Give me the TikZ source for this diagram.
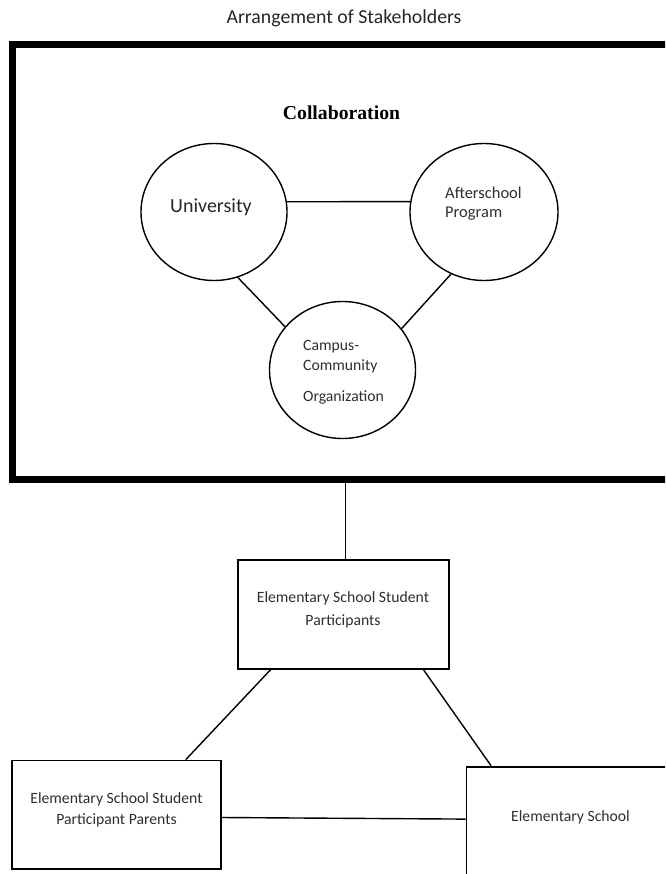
\documentclass[tikz,border=0pt]{standalone}
\usepackage{fontspec}
\setmainfont{Carlito}
\newfontfamily\serifbf{Liberation Serif}
\usetikzlibrary{shapes.geometric}
\begin{document}
\begin{tikzpicture}[x=1pt,y=-1pt,
  txt/.style={text=black!82, inner sep=0, font=\fontsize{15.7}{19}\selectfont},
  bigtxt/.style={text=black!85, inner sep=0, font=\fontsize{20}{24}\selectfont},
  stake/.style={draw, ellipse, line width=1.4pt, minimum width=146pt, minimum height=137pt, inner sep=0},
  stakebox/.style={draw, rectangle, line width=1.8pt, inner sep=0},
  frame/.style={draw, rectangle, line width=7pt, inner sep=0},
  link/.style={line width=1.4pt}]
\useasboundingbox (0,0) rectangle (665,874);
\clip (0,0) rectangle (665,874);

% title and frame
\node[bigtxt, font=\fontsize{19.8}{24}\selectfont] (title) at (344,18.5) {Arrangement of Stakeholders};
\node[frame, minimum width=667.3pt, minimum height=435pt] (fr) at (346.35,262) {};
\node[inner sep=0, font=\serifbf\bfseries\fontsize{19.7}{24}\selectfont] (collab) at (341.5,113) {Collaboration};

% circles
\node[stake] (U) at (214,212) {};
\node[stake, minimum width=148pt] (A) at (484,212) {};
\node[stake] (C) at (342.5,370) {};

\node[bigtxt] (ulbl) at (211,207) {University};
\node[txt, anchor=west, font=\fontsize{16.5}{20}\selectfont] (alblA) at (445,193.3) {Afterschool};
\node[txt, anchor=west, font=\fontsize{16.5}{20}\selectfont] (alblB) at (445,214) {Program};
\node[txt, anchor=west] (clblA) at (303,346.7) {Campus-};
\node[txt, anchor=west] (clblB) at (303,366) {Community};
\node[txt, anchor=west] (clblC) at (303,397.3) {Organization};

\draw[link] (U.8) -- (A.172);
\draw[link] (U.-70) -- (C.143);
\draw[link] (A.242) -- (C.35);

% boxes
\node[stakebox, minimum width=210.4pt, minimum height=109pt] (S) at (343.5,614.5) {};
\node[txt] (slblA) at (343,598) {Elementary School Student};
\node[txt] (slblB) at (343,621) {Participants};

\node[stakebox, minimum width=209.6pt, minimum height=108.8pt] (P) at (116.5,814.9) {};
\node[txt] (plblA) at (116.5,799.3) {Elementary School Student};
\node[txt] (plblB) at (116.5,820) {Participant Parents};

\node[stakebox, minimum width=253.5pt, minimum height=153.3pt] (E) at (593.25,843.35) {};
\node[txt] (elbl) at (570.5,817.7) {Elementary School};

% connectors
\coordinate (stop) at ([xshift=2pt]S.north);
\draw[link] (stop) -- (stop |- fr.south);
\draw[link] ([xshift=33pt]S.south west) -- ([xshift=175pt]P.north west);
\draw[link] ([xshift=-26pt]S.south east) -- ([xshift=25.5pt]E.north west);
\draw[link] ([yshift=-2.6pt]P.east) -- ([yshift=-53.3pt]E.north west);
\end{tikzpicture}
\end{document}
